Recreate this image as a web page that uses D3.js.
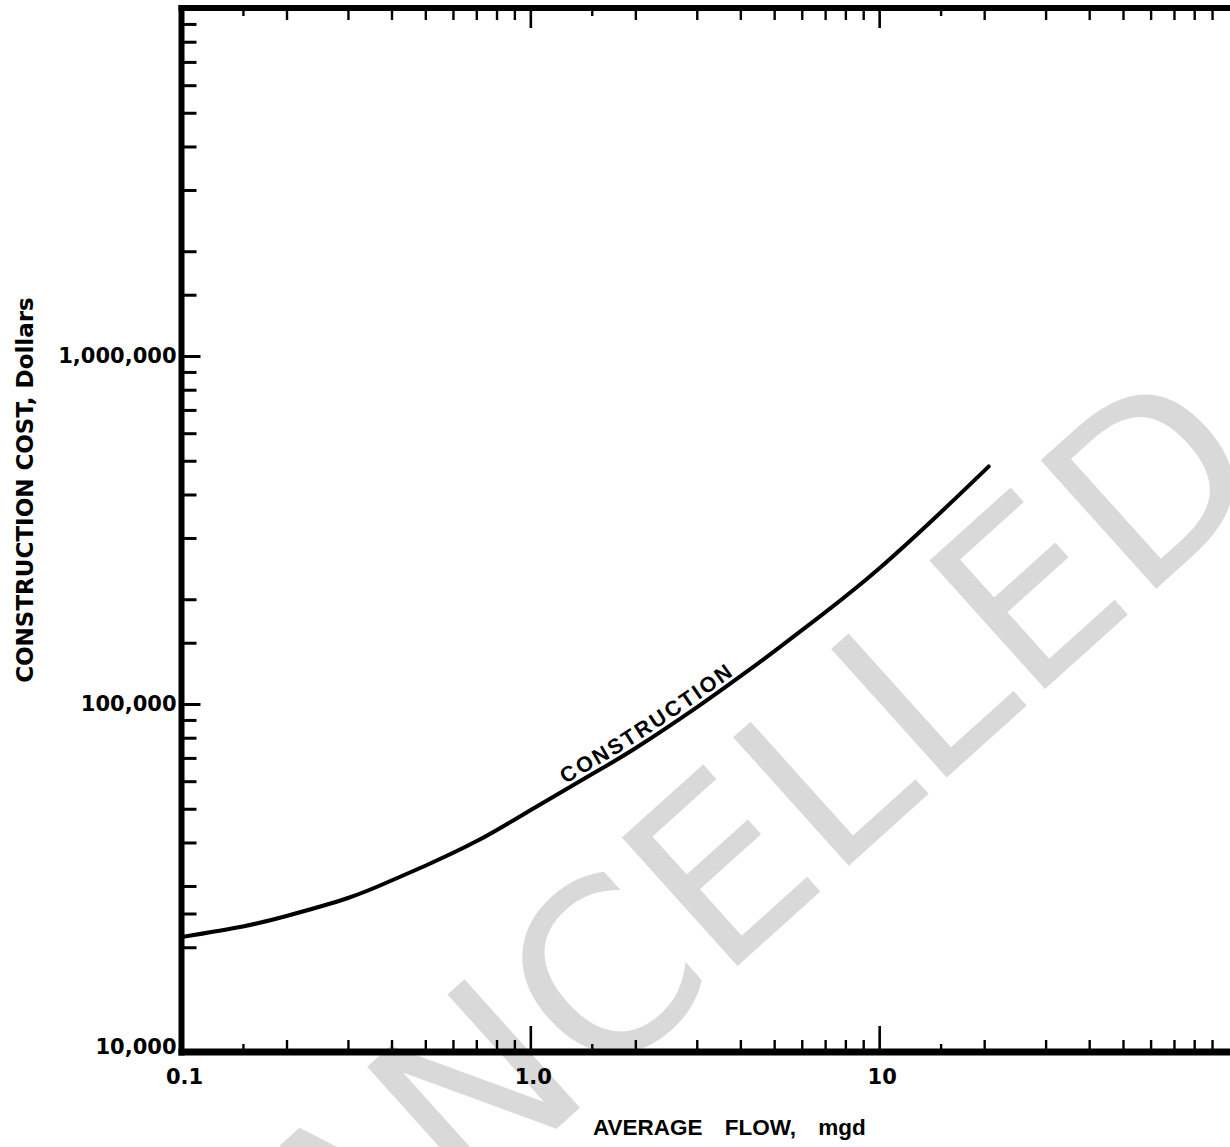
<!DOCTYPE html>
<html><head><meta charset="utf-8">
<script src="https://cdn.jsdelivr.net/npm/d3@7"></script>
<style>body{margin:0;background:#fff}svg{display:block}</style>
</head><body>
<svg id="c" width="1230" height="1147"></svg>
<script>
// ---- data ----
const flow = [0.1, 0.15, 0.2, 0.3, 0.4, 0.5, 0.7, 1.0, 1.5, 2, 3, 4, 5, 7, 10, 15, 20.6];
const cost = [21400, 22950, 24600, 27700, 31100, 34300, 40300, 49500, 62800, 74600, 97800, 120100, 141700, 183400, 245200, 355200, 481400];
const curveName = "CONSTRUCTION";
const labelFrom = 1.28, labelTo = 3.9;

const xMajorTicks = [1, 10];
const xHalfTicks = [0.15, 1.5, 15];
const xMinorTicks = [0.2,0.3,0.4,0.5,0.6,0.7,0.8,0.9, 2,3,4,5,6,7,8,9, 20,30,40,50,60,70,80,90];
const xLabelValues = [0.1, 1, 10];
const xLabelTexts = ["0.1", "1.0", "10"];

const yMajorTicks = [1e5, 1e6];
const yMinorTicks = [20000,25000,30000,40000,50000,60000,70000,80000,90000,
  150000,200000,300000,400000,500000,600000,700000,800000,900000,
  1500000,2000000,3000000,4000000,5000000,6000000,7000000,8000000,9000000];
const yLabelValues = [1e4, 1e5, 1e6];
const yLabelTexts = ["10,000", "100,000", "1,000,000"];

const xTitle = "AVERAGE FLOW, mgd";
const yTitle = "CONSTRUCTION COST, Dollars";
const watermark = "CANCELLED";

// ---- scales ----
const x = d3.scaleLog().domain([0.1, 100]).range([181.5, 1228]);
const y = d3.scaleLog().domain([1e4, 1e7]).range([1052, 8]);

const svg = d3.select("#c");
svg.append("rect").attr("width",1230).attr("height",1147).attr("fill","#fff");

// watermark
svg.append("text").text(watermark)
  .attr("transform","translate(222,1430) rotate(-42)")
  .attr("font-family","'DejaVu Sans', sans-serif")
  .attr("font-size",237)
  .attr("fill","#d9d9d9");

const X0 = x.range()[0], Y0 = y.range()[0], YT = y.range()[1];

function tickAxis(axisFn, scale, vals, size, width, tr){
  const g = svg.append("g").attr("transform", tr)
    .call(axisFn(scale).tickValues(vals).tickSize(size).tickSizeOuter(0).tickFormat(""));
  g.select(".domain").remove();
  g.selectAll(".tick line").attr("stroke","#000").attr("stroke-width",width);
  return g;
}
// bottom
tickAxis(d3.axisBottom, x, xMajorTicks, -26, 2.6, `translate(0,${Y0})`);
tickAxis(d3.axisBottom, x, xMinorTicks, -12, 2.4, `translate(0,${Y0})`);
tickAxis(d3.axisBottom, x, xHalfTicks, -8, 2.4, `translate(0,${Y0})`);
// top
tickAxis(d3.axisTop, x, xMajorTicks, -20, 2.6, `translate(0,${YT})`);
tickAxis(d3.axisTop, x, xMinorTicks, -12, 2.4, `translate(0,${YT})`);
tickAxis(d3.axisTop, x, xHalfTicks, -8, 2.4, `translate(0,${YT})`);
// left
tickAxis(d3.axisLeft, y, yMajorTicks, -19, 3, `translate(${X0},0)`);
tickAxis(d3.axisLeft, y, yMinorTicks, -15, 3, `translate(${X0},0)`);

// frame
svg.append("line").attr("x1",X0).attr("x2",X0).attr("y1",YT-3).attr("y2",Y0+3.5)
  .attr("stroke","#000").attr("stroke-width",6);
svg.append("line").attr("x1",X0-3).attr("x2",1230).attr("y1",Y0).attr("y2",Y0)
  .attr("stroke","#000").attr("stroke-width",7);
svg.append("line").attr("x1",X0-3).attr("x2",1230).attr("y1",YT).attr("y2",YT)
  .attr("stroke","#000").attr("stroke-width",6);

// curve
const pts = flow.map((f,i)=>[x(f), y(cost[i])]);
const line = d3.line().curve(d3.curveNatural);
const path = svg.append("path").attr("id","curve").attr("d", line(pts))
  .attr("fill","none").attr("stroke","#000").attr("stroke-width",4).attr("stroke-linecap","round");

// label along curve
const node = path.node(), total = node.getTotalLength();
function lenAtX(px){ let lo=0, hi=total; for(let k=0;k<40;k++){const m=(lo+hi)/2; if(node.getPointAtLength(m).x<px) lo=m; else hi=m;} return lo; }
const l0 = lenAtX(x(labelFrom)), l1 = lenAtX(x(labelTo));
svg.append("text")
  .attr("font-family","'Liberation Sans', Arial, sans-serif").attr("font-weight","bold").attr("font-size",21.5)
  .attr("dy",-5)
  .append("textPath").attr("href","#curve").attr("startOffset", l0)
  .attr("textLength", l1-l0).attr("lengthAdjust","spacing")
  .text(curveName);

// tick labels
const tickFont = "'DejaVu Sans', sans-serif";
svg.selectAll(".ylab").data(yLabelValues).enter().append("text")
  .attr("x", X0-5).attr("y", d => d===y.domain()[0] ? y(d)+2 : y(d)+7)
  .attr("text-anchor","end").attr("font-family",tickFont).attr("font-weight","bold").attr("font-size",21)
  .text((d,i)=>yLabelTexts[i]);
svg.selectAll(".xlab").data(xLabelValues).enter().append("text")
  .attr("x", d => x(d)+3).attr("y", Y0+32)
  .attr("text-anchor","middle").attr("font-family",tickFont).attr("font-weight","bold").attr("font-size",21)
  .text((d,i)=>xLabelTexts[i]);

// titles
svg.append("text").text(xTitle)
  .attr("x", 593).attr("y", 1135)
  .attr("font-family","'Liberation Sans', Arial, sans-serif").attr("font-weight","bold").attr("font-size",22.5)
  .attr("word-spacing",16);
svg.append("text").text(yTitle)
  .attr("transform","translate(33,490) rotate(-90)").attr("text-anchor","middle")
  .attr("font-family",tickFont).attr("font-weight","bold").attr("font-size",23);
</script>
</body></html>
